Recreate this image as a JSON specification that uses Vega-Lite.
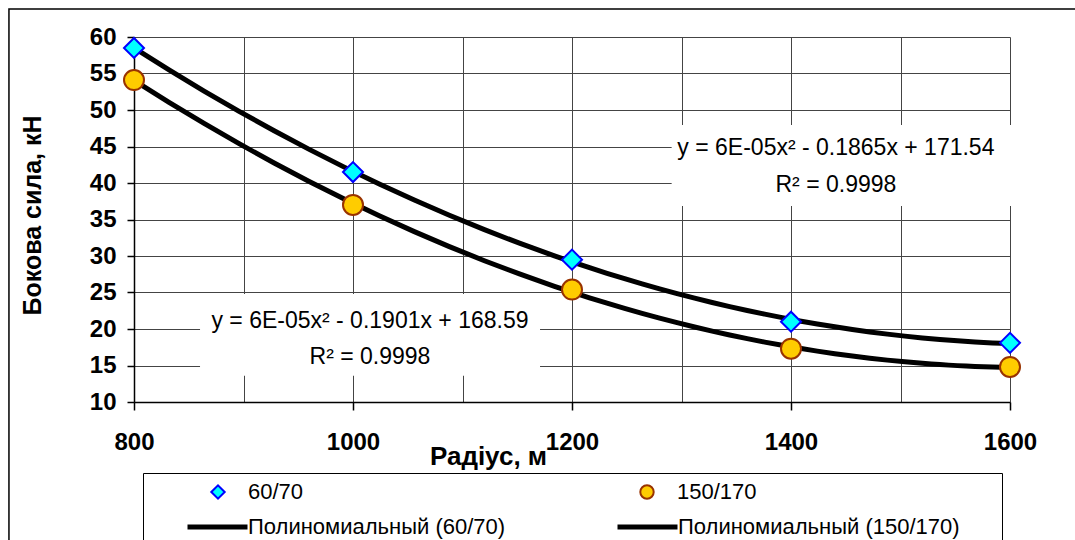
{
  "$schema": "https://vega.github.io/schema/vega-lite/v6.json",
  "width": 876,
  "height": 365,
  "autosize": "none",
  "padding": {"left": 134, "top": 37, "right": 65, "bottom": 138},
  "background": "white",
  "config": {"view": {"stroke": null}, "font": "Liberation Sans"},
  "datasets": {
    "points": [
      {"radius": 800, "force": 58.5, "series": "60/70"},
      {"radius": 1000, "force": 41.5, "series": "60/70"},
      {"radius": 1200, "force": 29.5, "series": "60/70"},
      {"radius": 1400, "force": 21.0, "series": "60/70"},
      {"radius": 1600, "force": 18.1, "series": "60/70"},
      {"radius": 800, "force": 54.1, "series": "150/170"},
      {"radius": 1000, "force": 37.0, "series": "150/170"},
      {"radius": 1200, "force": 25.4, "series": "150/170"},
      {"radius": 1400, "force": 17.3, "series": "150/170"},
      {"radius": 1600, "force": 14.8, "series": "150/170"}
    ]
  },
  "data": {"name": "points"},
  "layer": [
    {
      "data": {"values": [{}]},
      "mark": {"type": "rect", "fill": null, "stroke": "black", "strokeWidth": 1.5},
      "encoding": {
        "x": {"datum": 685.8, "type": "quantitative", "title": "Радіус, м"},
        "x2": {"datum": 1700},
        "y": {"datum": 63.84, "type": "quantitative", "title": "Бокова сила, кН"},
        "y2": {"datum": -20}
      }
    },
    {
      "data": {"values": [{}]},
      "mark": {"type": "rect", "fill": "white", "stroke": null},
      "encoding": {
        "x": {"datum": 1291, "type": "quantitative", "title": "Радіус, м"},
        "x2": {"datum": 1620},
        "y": {"datum": 36.85, "type": "quantitative", "title": "Бокова сила, кН"},
        "y2": {"datum": 47.95}
      }
    },
    {
      "data": {"values": [{}]},
      "mark": {"type": "rect", "fill": "white", "stroke": null},
      "encoding": {
        "x": {"datum": 860.3, "type": "quantitative", "title": "Радіус, м"},
        "x2": {"datum": 1170.8},
        "y": {"datum": 13.6, "type": "quantitative", "title": "Бокова сила, кН"},
        "y2": {"datum": 24.8}
      }
    },
    {
      "transform": [
        {"regression": "force", "on": "radius", "groupby": ["series"], "method": "poly", "order": 2, "extent": [800, 1600]}
      ],
      "mark": {"type": "line", "strokeWidth": 5},
      "encoding": {
        "x": {"field": "radius", "type": "quantitative", "title": "Радіус, м"},
        "y": {"field": "force", "type": "quantitative", "title": "Бокова сила, кН"},
        "color": {
          "field": "series",
          "type": "nominal",
          "sort": "descending",
          "scale": {"range": ["black", "black"]},
          "legend": {
            "orient": "none",
            "legendX": 9,
            "legendY": 436,
            "direction": "horizontal",
            "columns": 2,
            "title": null,
            "strokeColor": "black",
            "padding": 42,
            "clipHeight": 24,
            "columnPadding": 109,
            "symbolType": "stroke",
            "symbolSize": 3600,
            "symbolStrokeWidth": 5,
            "symbolOffset": 0,
            "labelOffset": -2,
            "labelExpr": "'Полиномиальный (' + datum.label + ')'",
            "labelFont": "Liberation Sans",
            "labelFontSize": 22,
            "labelColor": "black",
            "labelLimit": 500
          }
        }
      }
    },
    {
      "mark": {"type": "point", "filled": true, "size": 400, "strokeWidth": 2, "opacity": 1, "strokeOpacity": 1, "fillOpacity": 1},
      "encoding": {
        "x": {
          "field": "radius",
          "type": "quantitative",
          "title": "Радіус, м",
          "scale": {"domain": [800, 1600], "nice": false, "zero": false},
          "axis": {
            "values": [800, 900, 1000, 1100, 1200, 1300, 1400, 1500, 1600],
            "tickCount": 40,
            "format": "d",
            "labelExpr": "datum.value % 200 == 0 ? datum.label : ''",
            "grid": true,
            "gridColor": "#444444",
            "gridWidth": 1,
            "domainColor": "black",
            "domainWidth": 1.5,
            "tickColor": "black",
            "tickSize": 8,
            "tickWidth": 1.5,
            "tickOpacity": {"condition": {"test": "datum.value % 200 == 0", "value": 1}, "value": 0},
            "labelFlush": false,
            "labelOverlap": false,
            "labelBound": false,
            "labelFont": "Liberation Sans",
            "labelFontWeight": "bold",
            "labelFontSize": 24,
            "labelColor": "black",
            "labelPadding": 20,
            "titleFont": "Liberation Sans",
            "titleFontWeight": "bold",
            "titleFontSize": 26,
            "titleColor": "black",
            "titleX": 354,
            "titleY": 62,
            "titleAlign": "center",
            "titleBaseline": "alphabetic"
          }
        },
        "y": {
          "field": "force",
          "type": "quantitative",
          "title": "Бокова сила, кН",
          "scale": {"domain": [10, 60], "nice": false, "zero": false},
          "axis": {
            "values": [10, 15, 20, 25, 30, 35, 40, 45, 50, 55, 60],
            "tickCount": 40,
            "grid": true,
            "gridColor": "#444444",
            "gridWidth": 1,
            "domainColor": "black",
            "domainWidth": 1.5,
            "tickColor": "black",
            "tickSize": 7,
            "tickWidth": 1.5,
            "labelFlush": false,
            "labelOverlap": false,
            "labelBound": false,
            "labelFont": "Liberation Sans",
            "labelFontWeight": "bold",
            "labelFontSize": 24,
            "labelColor": "black",
            "labelPadding": 11,
            "titleFont": "Liberation Sans",
            "titleFontWeight": "bold",
            "titleFontSize": 25,
            "titleColor": "black",
            "titleAngle": -90,
            "titleX": -102,
            "titleY": 178,
            "titleAlign": "center",
            "titleBaseline": "middle"
          }
        },
        "shape": {
          "field": "series",
          "type": "nominal",
          "scale": {"domain": ["60/70", "150/170"], "range": ["diamond", "circle"]},
          "legend": {
            "orient": "none",
            "legendX": 73,
            "legendY": 443,
            "direction": "horizontal",
            "columns": 2,
            "title": null,
            "padding": 0,
            "clipHeight": 24,
            "columnPadding": 332,
            "symbolSize": 180,
            "symbolStrokeWidth": 2,
            "symbolOffset": 0,
            "labelOffset": 19,
            "labelFont": "Liberation Sans",
            "labelFontSize": 22,
            "labelColor": "black",
            "labelLimit": 500
          }
        },
        "fill": {
          "field": "series",
          "type": "nominal",
          "scale": {"domain": ["60/70", "150/170"], "range": ["#00ffff", "#ffcc00"]}
        },
        "stroke": {
          "field": "series",
          "type": "nominal",
          "scale": {"domain": ["60/70", "150/170"], "range": ["#0000ff", "#993300"]}
        }
      }
    },
    {
      "data": {"values": [{}]},
      "mark": {"type": "text", "text": "y = 6E-05x² - 0.1865x + 171.54", "font": "Liberation Sans", "fontSize": 23, "color": "black", "align": "center", "baseline": "middle"},
      "encoding": {
        "x": {"datum": 1441, "type": "quantitative", "title": "Радіус, м"},
        "y": {"datum": 44.8, "type": "quantitative", "title": "Бокова сила, кН"}
      }
    },
    {
      "data": {"values": [{}]},
      "mark": {"type": "text", "text": "R² = 0.9998", "font": "Liberation Sans", "fontSize": 23, "color": "black", "align": "center", "baseline": "middle"},
      "encoding": {
        "x": {"datum": 1441, "type": "quantitative", "title": "Радіус, м"},
        "y": {"datum": 39.7, "type": "quantitative", "title": "Бокова сила, кН"}
      }
    },
    {
      "data": {"values": [{}]},
      "mark": {"type": "text", "text": "y = 6E-05x² - 0.1901x + 168.59", "font": "Liberation Sans", "fontSize": 23, "color": "black", "align": "center", "baseline": "middle"},
      "encoding": {
        "x": {"datum": 1015.5, "type": "quantitative", "title": "Радіус, м"},
        "y": {"datum": 21.1, "type": "quantitative", "title": "Бокова сила, кН"}
      }
    },
    {
      "data": {"values": [{}]},
      "mark": {"type": "text", "text": "R² = 0.9998", "font": "Liberation Sans", "fontSize": 23, "color": "black", "align": "center", "baseline": "middle"},
      "encoding": {
        "x": {"datum": 1015.5, "type": "quantitative", "title": "Радіус, м"},
        "y": {"datum": 16.2, "type": "quantitative", "title": "Бокова сила, кН"}
      }
    }
  ]
}
